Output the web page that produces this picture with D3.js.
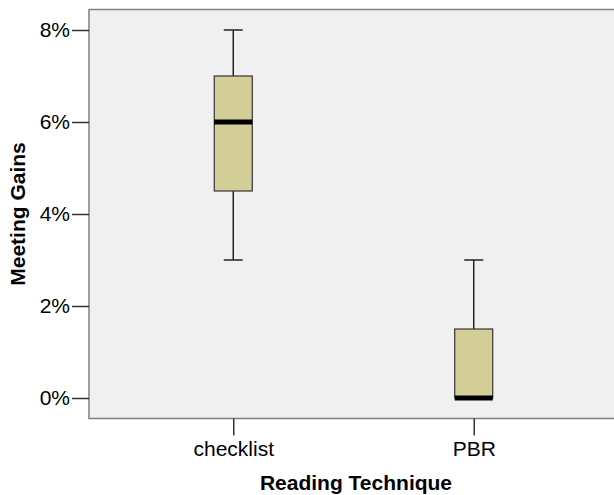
<!DOCTYPE html>
<html>
<head>
<meta charset="utf-8">
<script src="https://cdn.jsdelivr.net/npm/d3@7"></script>
<style>
  body { margin: 0; background: #fff; }
  text { font-family: Arial, "Liberation Sans", sans-serif; }
</style>
</head>
<body>
<div id="chart"></div>
<script>
    // boxplot stats (percent)
    var categories  = ['checklist', 'PBR'];
    var whiskerLow  = [3, 0];
    var q1          = [4.5, 0];
    var median      = [6, 0];
    var q3          = [7, 1.5];
    var whiskerHigh = [8, 3];
    var yTicks      = [0, 2, 4, 6, 8];

    var width = 614, height = 495;
    var plotLeft = 89, plotTop = 9.5, plotBottom = 418.5, plotRight = 620;
    var boxWidth = 38, capWidth = 19;

    var svg = d3.select('#chart').append('svg')
        .attr('width', width)
        .attr('height', height);

    var x = d3.scalePoint()
        .domain(categories)
        .range([plotLeft, 618])
        .padding(0.6);

    var y = d3.scaleLinear()
        .domain([0, 8])
        .range([398, 30]);

    // plot background
    svg.append('rect')
        .attr('x', plotLeft)
        .attr('y', plotTop)
        .attr('width', plotRight - plotLeft)
        .attr('height', plotBottom - plotTop)
        .attr('fill', '#f0f0f0')
        .attr('stroke', '#7f7f7f')
        .attr('stroke-width', 1.5);

    var rows = categories.map(function (c, i) {
        return { cat: c, lo: whiskerLow[i], q1: q1[i], med: median[i], q3: q3[i], hi: whiskerHigh[i] };
    });

    var g = svg.append('g').selectAll('g')
        .data(rows)
        .enter().append('g');

    g.append('line')
        .attr('x1', function (d) { return x(d.cat); })
        .attr('x2', function (d) { return x(d.cat); })
        .attr('y1', function (d) { return y(d.hi); })
        .attr('y2', function (d) { return y(d.lo); })
        .attr('stroke', '#222')
        .attr('stroke-width', 1.5);

    g.selectAll('line.cap')
        .data(function (d) { return [{ cat: d.cat, v: d.hi }, { cat: d.cat, v: d.lo }]; })
        .enter().append('line')
        .attr('class', 'cap')
        .attr('x1', function (d) { return x(d.cat) - capWidth / 2; })
        .attr('x2', function (d) { return x(d.cat) + capWidth / 2; })
        .attr('y1', function (d) { return y(d.v); })
        .attr('y2', function (d) { return y(d.v); })
        .attr('stroke', '#222')
        .attr('stroke-width', 1.5);

    g.append('rect')
        .attr('x', function (d) { return x(d.cat) - boxWidth / 2; })
        .attr('y', function (d) { return y(d.q3); })
        .attr('width', boxWidth)
        .attr('height', function (d) { return y(d.q1) - y(d.q3); })
        .attr('fill', '#d3ce98')
        .attr('stroke', '#333')
        .attr('stroke-width', 1.2);

    g.append('line')
        .attr('x1', function (d) { return x(d.cat) - boxWidth / 2; })
        .attr('x2', function (d) { return x(d.cat) + boxWidth / 2; })
        .attr('y1', function (d) { return y(d.med); })
        .attr('y2', function (d) { return y(d.med); })
        .attr('stroke', '#000')
        .attr('stroke-width', 5);

    // axes
    var yAxis = svg.append('g')
        .attr('transform', 'translate(' + plotLeft + ',0)')
        .call(d3.axisLeft(y).tickValues(yTicks).tickSize(17).tickPadding(2)
            .tickFormat(function (d) { return d + '%'; }));

    var xAxis = svg.append('g')
        .attr('transform', 'translate(0,' + plotBottom + ')')
        .call(d3.axisBottom(x).tickSize(17).tickPadding(6));

    [yAxis, xAxis].forEach(function (a) {
        a.select('.domain').remove();
        a.selectAll('.tick line').attr('stroke', '#333').attr('stroke-width', 1.5);
        a.selectAll('.tick text')
            .attr('fill', '#000')
            .style('font-size', '21px')
            .style('font-family', 'Arial, "Liberation Sans", sans-serif');
    });

    svg.append('text')
        .attr('x', 356)
        .attr('y', 490)
        .attr('text-anchor', 'middle')
        .style('font-size', '21px')
        .style('font-weight', 'bold')
        .text('Reading Technique');

    svg.append('text')
        .attr('transform', 'translate(25,' + (plotTop + plotBottom) / 2 + ') rotate(-90)')
        .attr('text-anchor', 'middle')
        .style('font-size', '21px')
        .style('font-weight', 'bold')
        .text('Meeting Gains');
</script>
</body>
</html>
